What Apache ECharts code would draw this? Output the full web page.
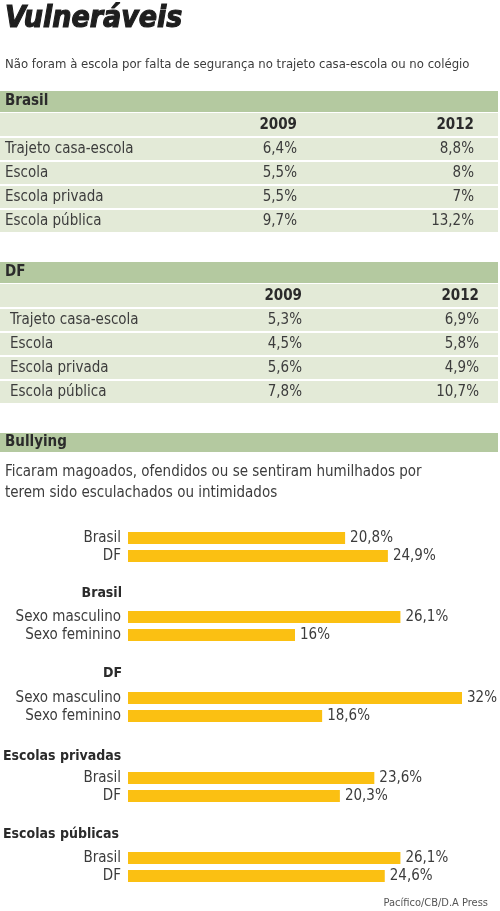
<!DOCTYPE html>
<html>
<head>
<meta charset="utf-8">
<script src="https://cdn.jsdelivr.net/npm/echarts@6/dist/echarts.min.js"></script>
<style>
html,body{margin:0;padding:0;background:#fff;}
#c{width:500px;height:911px;}
</style>
</head>
<body>
<div id="c"></div>
<script>
// ---- data ----
var title = 'Vulneráveis';
var subtitle = 'Não foram à escola por falta de segurança no trajeto casa-escola ou no colégio';
var tableYears = ['2009', '2012'];
var tableRows = ['Trajeto casa-escola', 'Escola', 'Escola privada', 'Escola pública'];
var brasil2009 = [6.4, 5.5, 5.5, 9.7];
var brasil2012 = [8.8, 8, 7, 13.2];
var df2009 = [5.3, 4.5, 5.6, 7.8];
var df2012 = [6.9, 5.8, 4.9, 10.7];

var bullyingTitle = 'Bullying';
var bullyingNote = ['Ficaram magoados, ofendidos ou se sentiram humilhados por', 'terem sido esculachados ou intimidados'];
var groupTitles = ['', 'Brasil', 'DF', 'Escolas privadas', 'Escolas públicas'];
var placeCats = ['Brasil', 'DF'];
var sexCats = ['Sexo masculino', 'Sexo feminino'];
var bullyingTotal = [20.8, 24.9];
var brasilSexo = [26.1, 16];
var dfSexo = [32, 18.6];
var privadas = [23.6, 20.3];
var publicas = [26.1, 24.6];
var source = 'Pacífico/CB/D.A Press';

// ---- layout/style ----
var FONT = '"Liberation Sans Narrow", "DejaVu Sans Condensed", sans-serif';
var DARK = '#2b2b2b', TXT = '#3c3c3c';
var HEAD = '#b4c9a0', ROW = '#e3ead7', BAR = '#fbc012';

function fmt(v) { return String(v).replace('.', ',') + '%'; }

var graphic = [];
function text(x, y, s, o) {
  o = o || {};
  graphic.push({
    type: 'text', x: x, y: y, z: 10,
    style: {
      text: s, fill: o.fill || TXT, font: (o.weight || 'normal') + ' ' + (o.size || 15) + 'px ' + FONT,
      textAlign: o.align || 'left', textVerticalAlign: 'middle'
    }
  });
}
function rect(x, y, w, h, c) {
  graphic.push({ type: 'rect', shape: { x: x, y: y, width: w, height: h }, style: { fill: c }, z: 1 });
}

// title
graphic.push({
  type: 'text', x: 5, y: 19.5, z: 10,
  style: { text: title, fill: '#1e1e1e', stroke: '#1e1e1e', lineWidth: 1.1, font: 'italic bold 30px ' + FONT, textVerticalAlign: 'middle' }
});
text(5, 65, subtitle, { size: 13 });

function table(top, name, labelX, c1x, c2x, a, b) {
  rect(0, top, 498, 21, HEAD);
  text(5, top + 10.5, name, { weight: 'bold', fill: DARK });
  var y = top + 22;
  rect(0, y, 498, 23, ROW);
  text(c1x, y + 12, tableYears[0], { weight: 'bold', fill: DARK, align: 'right' });
  text(c2x, y + 12, tableYears[1], { weight: 'bold', fill: DARK, align: 'right' });
  y += 25;
  for (var i = 0; i < tableRows.length; i++) {
    rect(0, y, 498, 22, ROW);
    text(labelX, y + 11, tableRows[i]);
    text(c1x, y + 11, fmt(a[i]), { align: 'right' });
    text(c2x, y + 11, fmt(b[i]), { align: 'right' });
    y += 24;
  }
}
table(91, 'Brasil', 5, 297, 474, brasil2009, brasil2012);
table(262, 'DF', 10, 302, 479, df2009, df2012);

rect(0, 433, 498, 19, HEAD);
text(5, 442, bullyingTitle, { weight: 'bold', fill: DARK });
text(5, 472, bullyingNote[0], { size: 15 });
text(5, 493, bullyingNote[1], { size: 15 });

var groupTitleY = [0, 593, 673, 756, 834];
for (var g = 1; g < groupTitles.length; g++) {
  if (g >= 3) text(3, groupTitleY[g], groupTitles[g], { weight: 'bold', fill: DARK, size: 14 });
  else text(122, groupTitleY[g], groupTitles[g], { weight: 'bold', fill: DARK, align: 'right', size: 14 });
}
text(488, 903, source, { size: 11, align: 'right', fill: '#555' });

var groupData = [bullyingTotal, brasilSexo, dfSexo, privadas, publicas];
var groupCats = [placeCats, sexCats, sexCats, placeCats, placeCats];
var gridTops = [529, 608, 689, 769, 849];

var grids = [], xAxes = [], yAxes = [], series = [];
for (var k = 0; k < groupData.length; k++) {
  grids.push({ left: 128, width: 334, top: gridTops[k], height: 36 });
  xAxes.push({ gridIndex: k, type: 'value', min: 0, max: 32, show: false });
  yAxes.push({
    gridIndex: k, type: 'category', data: groupCats[k], inverse: true,
    axisLine: { show: false }, axisTick: { show: false },
    axisLabel: { interval: 0, color: TXT, fontSize: 15, fontFamily: FONT, margin: 7 }
  });
  series.push({
    type: 'bar', xAxisIndex: k, yAxisIndex: k, data: groupData[k], barWidth: 12,
    itemStyle: { color: BAR }, silent: true,
    label: { show: true, position: 'right', distance: 5, color: TXT, fontSize: 15, fontFamily: FONT, formatter: function (p) { return fmt(p.value); } }
  });
}

var chart = echarts.init(document.getElementById('c'), null, { renderer: 'canvas' });
chart.setOption({
  animation: false,
  backgroundColor: '#fff',
  grid: grids, xAxis: xAxes, yAxis: yAxes, series: series,
  graphic: { elements: graphic }
});
</script>
</body>
</html>
